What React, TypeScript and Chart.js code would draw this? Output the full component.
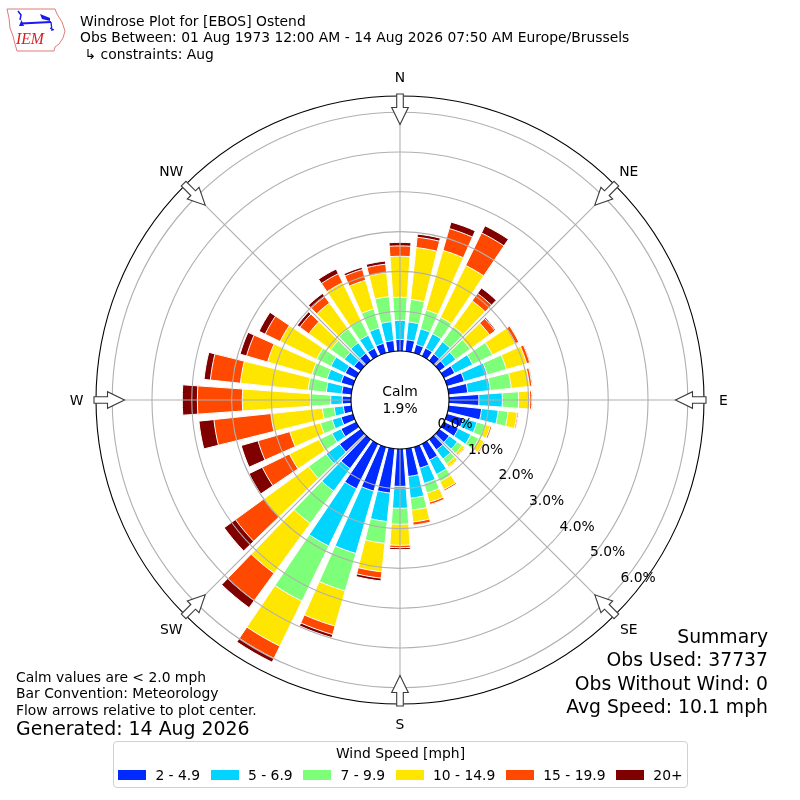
import React, { useEffect, useRef } from "react";
import { Chart, registerables } from "chart.js";

Chart.register(...registerables);

// ---------------- data ----------------
const DIRECTIONS = [0, 10, 20, 30, 40, 50, 60, 70, 80, 90, 100, 110, 120, 130, 140, 150, 160, 170,
  180, 190, 200, 210, 220, 230, 240, 250, 260, 270, 280, 290, 300, 310, 320, 330, 340, 350];

const SPEED_BINS = ["2 - 4.9", "5 - 6.9", "7 - 9.9", "10 - 14.9", "15 - 19.9", "20+"];
const BIN_COLORS = ["#002aff", "#00d4ff", "#7dff7a", "#ffe600", "#ff4800", "#800000"];

// frequency (%) per direction for each speed bin
const SPEED_2_5 = [0.29, 0.29, 0.22, 0.22, 0.20, 0.18, 0.30, 0.45, 0.48, 0.75, 0.83, 0.43, 0.40, 0.30, 0.32, 0.45, 0.55, 0.70,
  0.94, 1.12, 1.15, 1.25, 0.90, 0.65, 0.42, 0.31, 0.20, 0.22, 0.24, 0.31, 0.30, 0.20, 0.22, 0.22, 0.25, 0.27];
const SPEED_5_7 = [0.48, 0.45, 0.41, 0.40, 0.38, 0.32, 0.50, 0.60, 0.57, 0.59, 0.42, 0.35, 0.35, 0.25, 0.28, 0.40, 0.40, 0.55,
  0.55, 0.72, 1.63, 1.60, 0.70, 0.42, 0.25, 0.23, 0.23, 0.29, 0.39, 0.36, 0.40, 0.30, 0.33, 0.36, 0.40, 0.48];
const SPEED_7_10 = [0.58, 0.57, 0.49, 0.46, 0.47, 0.45, 0.55, 0.50, 0.53, 0.41, 0.25, 0.22, 0.22, 0.15, 0.15, 0.20, 0.25, 0.30,
  0.40, 0.55, 0.98, 1.54, 1.00, 0.54, 0.36, 0.31, 0.30, 0.51, 0.46, 0.40, 0.40, 0.42, 0.43, 0.42, 0.50, 0.63];
const SPEED_10_15 = [1.03, 1.31, 1.56, 1.45, 0.80, 0.60, 0.65, 0.53, 0.46, 0.28, 0.23, 0.13, 0.15, 0.08, 0.10, 0.22, 0.24, 0.30,
  0.53, 0.72, 0.92, 1.26, 1.55, 1.39, 0.83, 0.80, 1.30, 1.71, 1.71, 1.16, 1.02, 0.68, 0.80, 1.05, 0.75, 0.60];
const SPEED_15_20 = [0.26, 0.26, 0.57, 0.91, 0.23, 0.17, 0.09, 0.08, 0.06, 0.05, 0.03, 0.04, 0.03, 0.02, 0.02, 0.04, 0.06, 0.08,
  0.06, 0.16, 0.22, 0.34, 0.85, 0.88, 0.76, 0.83, 1.44, 1.13, 0.76, 0.55, 0.42, 0.28, 0.20, 0.25, 0.28, 0.22];
const SPEED_20_UP = [0.09, 0.08, 0.17, 0.20, 0.17, 0.03, 0.01, 0.02, 0.02, 0.02, 0.01, 0.00, 0.00, 0.00, 0.00, 0.00, 0.00, 0.01,
  0.05, 0.07, 0.08, 0.11, 0.22, 0.35, 0.37, 0.44, 0.38, 0.38, 0.16, 0.17, 0.17, 0.08, 0.10, 0.13, 0.06, 0.08];

const CALM_PCT = 1.9;
const RING_TICKS = [0, 1, 2, 3, 4, 5, 6];
const COMPASS_LABELS = ["N", "NE", "E", "SE", "S", "SW", "W", "NW"];
const COMPASS_DEGREES = [0, 45, 90, 135, 180, 225, 270, 315];

const TITLE_LINES = [
  "Windrose Plot for [EBOS] Ostend",
  "Obs Between: 01 Aug 1973 12:00 AM - 14 Aug 2026 07:50 AM Europe/Brussels",
  "\u21b3 constraints: Aug",
];
const NOTE_LINES = [
  "Calm values are < 2.0 mph",
  "Bar Convention: Meteorology",
  "Flow arrows relative to plot center.",
];
const GENERATED_TEXT = "Generated: 14 Aug 2026";
const SUMMARY_LINES = ["Summary", "Obs Used: 37737", "Obs Without Wind: 0", "Avg Speed: 10.1 mph"];
const LEGEND_TITLE = "Wind Speed [mph]";

// ---------------- layout constants ----------------
const SCALE_MIN = -1.2312; // empty calm hole in the middle
const SCALE_MAX = 6.407;
const BAR_DEG = 8;
const GAP_DEG = 2;
const RING_LABEL_DEG = 130;
const FONT = "'DejaVu Sans', sans-serif";
const FS = 13.89;

const roseDecor = {
  id: "roseDecor",
  afterDatasetsDraw(chart: any) {
    const s = chart.scales.r;
    const ctx = chart.ctx;
    const cx = s.xCenter;
    const cy = s.yCenter;
    const rOuter = s.getDistanceFromCenterForValue(s.max);
    ctx.save();
    ctx.strokeStyle = "#b0b0b0";
    ctx.lineWidth = 1.1;
    RING_TICKS.forEach((v) => {
      if (v === 0) return;
      ctx.beginPath();
      ctx.arc(cx, cy, s.getDistanceFromCenterForValue(v), 0, Math.PI * 2);
      ctx.stroke();
    });
    COMPASS_DEGREES.forEach((d) => {
      const a = ((d - 90) * Math.PI) / 180;
      ctx.beginPath();
      ctx.moveTo(cx, cy);
      ctx.lineTo(cx + rOuter * Math.cos(a), cy + rOuter * Math.sin(a));
      ctx.stroke();
    });
    ctx.restore();
  },
  afterDraw(chart: any) {
    const s = chart.scales.r;
    const ctx = chart.ctx;
    const cx = s.xCenter;
    const cy = s.yCenter;
    const rOuter = s.getDistanceFromCenterForValue(s.max);
    const r0 = s.getDistanceFromCenterForValue(0);
    ctx.save();
    // outer spine
    ctx.strokeStyle = "#000";
    ctx.lineWidth = 1.1;
    ctx.beginPath();
    ctx.arc(cx, cy, rOuter, 0, Math.PI * 2);
    ctx.stroke();
    // calm circle
    ctx.fillStyle = "#fff";
    ctx.beginPath();
    ctx.arc(cx, cy, r0, 0, Math.PI * 2);
    ctx.fill();
    ctx.stroke();
    ctx.fillStyle = "#000";
    ctx.font = `${FS}px ${FONT}`;
    ctx.textAlign = "center";
    ctx.textBaseline = "alphabetic";
    ctx.fillText("Calm", cx, cy - 4);
    ctx.fillText(`${CALM_PCT.toFixed(1)}%`, cx, cy + 12.7);
    // ring labels
    const ra = ((RING_LABEL_DEG - 90) * Math.PI) / 180;
    ctx.textAlign = "left";
    RING_TICKS.forEach((v) => {
      const rr = s.getDistanceFromCenterForValue(v);
      ctx.fillText(`${v.toFixed(1)}%`, cx + rr * Math.cos(ra), cy + rr * Math.sin(ra) - 3.3);
    });
    // arrows + compass labels
    COMPASS_DEGREES.forEach((d, i) => {
      const a = ((d - 90) * Math.PI) / 180;
      const ux = Math.cos(a);
      const uy = Math.sin(a);
      const px = -uy;
      const py = ux;
      const pts = [
        [rOuter - 28.5, 0],
        [rOuter - 11.5, 8.3],
        [rOuter - 11.5, 3.3],
        [rOuter + 2, 3.3],
        [rOuter + 2, -3.3],
        [rOuter - 11.5, -3.3],
        [rOuter - 11.5, -8.3],
      ];
      ctx.beginPath();
      pts.forEach(([rr, w], k) => {
        const x = cx + rr * ux + w * px;
        const y = cy + rr * uy + w * py;
        if (k === 0) ctx.moveTo(x, y);
        else ctx.lineTo(x, y);
      });
      ctx.closePath();
      ctx.fillStyle = "#fff";
      ctx.fill();
      ctx.strokeStyle = "#3a3a3a";
      ctx.lineWidth = 1.1;
      ctx.stroke();
      const rl = rOuter + 19.5;
      ctx.fillStyle = "#000";
      ctx.textAlign = "center";
      ctx.fillText(COMPASS_LABELS[i], cx + rl * ux, cy + rl * uy + 5.1);
    });
    ctx.restore();
  },
};

export default function App() {
  const ref = useRef<HTMLCanvasElement | null>(null);

  useEffect(() => {
    const bins = [SPEED_2_5, SPEED_5_7, SPEED_7_10, SPEED_10_15, SPEED_15_20, SPEED_20_UP];
    const cumulative: number[][] = [];
    let running = DIRECTIONS.map(() => 0);
    bins.forEach((b) => {
      running = running.map((v, i) => v + b[i]);
      cumulative.push(running.slice());
    });
    const labels = DIRECTIONS.flatMap((d) => [`${d}`, ""]);
    const datasets = cumulative.map((vals, k) => ({
      label: SPEED_BINS[k],
      data: vals.flatMap((v) => [v, SCALE_MIN]),
      backgroundColor: BIN_COLORS[k],
      borderColor: "#ffffff",
      borderWidth: 1,
      angle: (c: any) => (c.dataIndex % 2 === 0 ? BAR_DEG : GAP_DEG),
    }));
    const chart = new Chart(ref.current as HTMLCanvasElement, {
      type: "polarArea",
      data: { labels, datasets } as any,
      options: {
        responsive: false,
        maintainAspectRatio: false,
        animation: false,
        layout: { padding: 96 },
        plugins: { legend: { display: false }, tooltip: { enabled: false } },
        scales: {
          r: {
            type: "radialLinear",
            min: SCALE_MIN,
            max: SCALE_MAX,
            startAngle: -BAR_DEG / 2,
            ticks: { display: false },
            grid: { display: false },
            angleLines: { display: false },
            pointLabels: { display: false },
          },
        },
      } as any,
      plugins: [roseDecor],
    });
    return () => chart.destroy();
  }, []);

  return (
    <div style={{ position: "absolute", left: 0, top: 0, width: 800, height: 800, background: "#fff", fontFamily: FONT }}>
      <canvas ref={ref} width={800} height={800} style={{ position: "absolute", left: 0, top: 0 }} />
      <svg width={800} height={800} style={{ position: "absolute", left: 0, top: 0, pointerEvents: "none" }}>
        {/* IEM logo */}
        <path d="M7,9 L55,9 L57,14 L62,22 L65,31 L63,38 L59,44 L55,47 L54,51 L17,51 L15,44 L13,36 L10,28 L9,18 Z"
          fill="none" stroke="#e07a7a" strokeWidth={1} />
        <line x1={21} y1={23.5} x2={51} y2={22} stroke="#1a1aee" strokeWidth={2} />
        <path d="M18,11 L21,15 L20,20" fill="none" stroke="#1a1aee" strokeWidth={1.5} />
        <path d="M19,26 L21.5,20 L24,26 Z" fill="#1a1aee" />
        <path d="M40,14 L50,18 L50,21 L42,19 Z" fill="#1a1aee" />
        <path d="M51,22 L52,31 M50,28 L54,30" fill="none" stroke="#1a1aee" strokeWidth={1.3} />
        <text x={16} y={44} fontFamily="'Liberation Serif', serif" fontStyle="italic" fontSize={17}
          fill="#d82020" textLength={28} lengthAdjust="spacingAndGlyphs">IEM</text>

        {TITLE_LINES.map((t, i) => (
          <text key={t} x={i === 2 ? 84.5 : 80} y={25.7 + i * 16.67} fontSize={FS} fontFamily={FONT} fill="#000">{t}</text>
        ))}
        {NOTE_LINES.map((t, i) => (
          <text key={t} x={16} y={681.5 + i * 16.67} fontSize={FS} fontFamily={FONT} fill="#000">{t}</text>
        ))}
        <text x={16} y={735} fontSize={18.9} fontFamily={FONT} fill="#000">{GENERATED_TEXT}</text>
        {SUMMARY_LINES.map((t, i) => (
          <text key={t} x={768} y={642.5 + i * 23.5} fontSize={18.8} fontFamily={FONT} textAnchor="end" fill="#000">{t}</text>
        ))}
      </svg>
      <div style={{
        position: "absolute", left: 113, top: 741, width: 575, height: 47, boxSizing: "border-box",
        border: "1px solid #d0d0d0", borderRadius: 4, background: "#fff", fontSize: FS, color: "#000",
      }}>
        <div style={{ position: "absolute", left: 0, right: 0, top: 3.2, lineHeight: "16px", textAlign: "center" }}>
          {LEGEND_TITLE}
        </div>
        <div style={{
          position: "absolute", left: 0, right: 0, top: 24.7, height: 16, display: "flex",
          justifyContent: "center", alignItems: "center", gap: 10.8, lineHeight: "16px", whiteSpace: "nowrap",
        }}>
          {SPEED_BINS.map((b, k) => (
            <div key={b} style={{ display: "flex", alignItems: "center" }}>
              <span style={{ display: "inline-block", width: 28, height: 9.7, background: BIN_COLORS[k], marginRight: 9 }} />
              <span>{b}</span>
            </div>
          ))}
        </div>
      </div>
    </div>
  );
}
